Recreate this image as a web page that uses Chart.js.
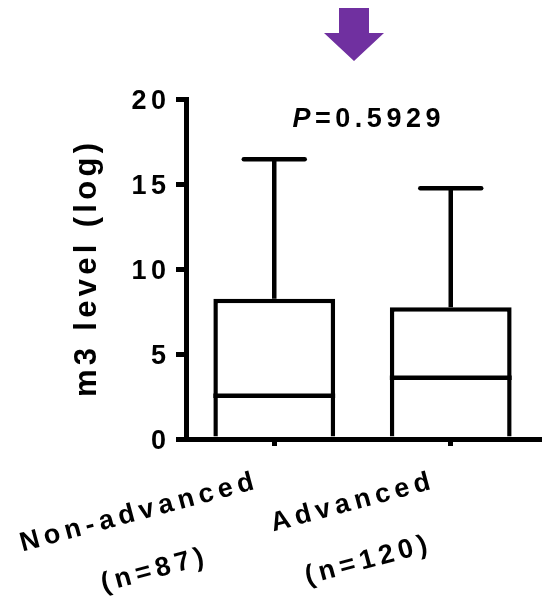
<!DOCTYPE html>
<html>
<head>
<meta charset="utf-8">
<script src="https://cdn.jsdelivr.net/npm/chart.js@4.4.1/dist/chart.umd.min.js"></script>
<style>
  html, body { margin: 0; padding: 0; background: #fff; }
</style>
</head>
<body>
<canvas id="m3Chart" width="542" height="596"></canvas>
<script>
const groups = ['Non-advanced', 'Advanced'];
const groupN = [87, 120];
const boxLow = [0, 0];
const boxHigh = [8.25, 7.75];
const medians = [2.55, 3.6];
const whiskerMax = [16.45, 14.75];
const yTicks = [0, 5, 10, 15, 20];
const pValue = '0.5929';

const FONT = '"Liberation Sans", Arial, sans-serif';
const LINE = 4.5;

// text with wide letter spacing, aligned on its visible width
function spacedText(ctx, text, x, y, align, spacing) {
  ctx.letterSpacing = spacing + 'px';
  const w = ctx.measureText(text).width - spacing;
  const sx = align === 'right' ? x - w : align === 'center' ? x - w / 2 : x;
  ctx.textAlign = 'left';
  ctx.fillText(text, sx, y);
  return w;
}

// whiskers and medians on top of the floating bars
const boxExtras = {
  id: 'boxExtras',
  afterDatasetsDraw(chart) {
    const ctx = chart.ctx;
    const y = chart.scales.y;
    const meta = chart.getDatasetMeta(0);
    ctx.save();
    ctx.strokeStyle = '#000';
    ctx.lineWidth = LINE;
    meta.data.forEach((bar, i) => {
      const half = bar.width / 2;
      const yTop = y.getPixelForValue(boxHigh[i]);
      const yMed = y.getPixelForValue(medians[i]);
      const yMax = y.getPixelForValue(whiskerMax[i]);
      ctx.lineCap = 'butt';
      ctx.beginPath();
      ctx.moveTo(bar.x - half, yMed);
      ctx.lineTo(bar.x + half, yMed);
      ctx.stroke();
      ctx.beginPath();
      ctx.moveTo(bar.x, yTop);
      ctx.lineTo(bar.x, yMax);
      ctx.stroke();
      ctx.lineCap = 'round';
      ctx.beginPath();
      ctx.moveTo(bar.x - half / 2, yMax);
      ctx.lineTo(bar.x + half / 2, yMax);
      ctx.stroke();
    });
    ctx.restore();
  }
};

// labels, axis title, p-value and the arrow
const labels = {
  id: 'labels',
  afterDraw(chart) {
    const ctx = chart.ctx;
    const {x, y} = chart.scales;
    const area = chart.chartArea;
    ctx.save();
    ctx.fillStyle = '#000';
    ctx.textBaseline = 'alphabetic';
    ctx.font = 'bold 27px ' + FONT;

    y.ticks.forEach(t => {
      spacedText(ctx, String(t.value), 166, y.getPixelForValue(t.value) + 10, 'right', 4.5);
    });

    groups.forEach((g, i) => {
      const px = x.getPixelForValue(i);
      ctx.save();
      ctx.translate(px - 19, 489);
      ctx.rotate(-15 * Math.PI / 180);
      const w = spacedText(ctx, g, 0, 0, 'right', 5);
      spacedText(ctx, '(n=' + groupN[i] + ')', -w / 2, 60, 'center', 5);
      ctx.restore();
    });

    ctx.save();
    ctx.font = 'bold 31px ' + FONT;
    ctx.translate(96, 270);
    ctx.rotate(-Math.PI / 2);
    spacedText(ctx, 'm3 level (log)', 0, 0, 'center', 4.3);
    ctx.restore();

    // P value centred over the plot
    const cx = (area.left + area.right) / 2 + 4;
    const by = area.top + 28;
    ctx.letterSpacing = '4.5px';
    ctx.font = 'italic bold 27px ' + FONT;
    const wP = ctx.measureText('P').width;
    ctx.font = 'bold 27px ' + FONT;
    const wRest = ctx.measureText('=' + pValue).width - 4.5;
    const sx = cx - (wP + wRest) / 2;
    ctx.font = 'italic bold 27px ' + FONT;
    ctx.textAlign = 'left';
    ctx.fillText('P', sx, by);
    ctx.font = 'bold 27px ' + FONT;
    ctx.fillText('=' + pValue, sx + wP, by);

    // purple down arrow
    ctx.letterSpacing = '0px';
    ctx.fillStyle = '#7030a0';
    ctx.beginPath();
    ctx.moveTo(339, 8);
    ctx.lineTo(369, 8);
    ctx.lineTo(369, 33);
    ctx.lineTo(384, 33);
    ctx.lineTo(354, 61);
    ctx.lineTo(324, 33);
    ctx.lineTo(339, 33);
    ctx.closePath();
    ctx.fill();
    ctx.restore();
  }
};

new Chart(document.getElementById('m3Chart'), {
  type: 'bar',
  data: {
    labels: groups,
    datasets: [{
      data: boxLow.map((lo, i) => [lo, boxHigh[i]]),
      backgroundColor: '#fff',
      borderColor: '#000',
      borderWidth: LINE,
      borderSkipped: 'start',
      barPercentage: 0.69,
      categoryPercentage: 1
    }]
  },
  options: {
    responsive: false,
    animation: false,
    layout: {
      padding: {left: 176, top: 99, right: 3, bottom: 150}
    },
    plugins: {
      legend: {display: false},
      tooltip: {enabled: false}
    },
    scales: {
      x: {
        offset: true,
        grid: {
          offset: false,
          drawOnChartArea: false,
          drawTicks: true,
          tickLength: 7,
          lineWidth: 5,
          color: '#000'
        },
        border: {display: true, width: 5, color: '#000'},
        ticks: {display: false}
      },
      y: {
        min: 0,
        max: 20,
        afterBuildTicks: scale => {
          scale.ticks = yTicks.map(v => ({value: v}));
        },
        grid: {
          drawOnChartArea: false,
          drawTicks: true,
          tickLength: 10,
          lineWidth: 5,
          color: '#000'
        },
        border: {display: true, width: 5, color: '#000'},
        ticks: {display: false}
      }
    }
  },
  plugins: [boxExtras, labels]
});
</script>
</body>
</html>
